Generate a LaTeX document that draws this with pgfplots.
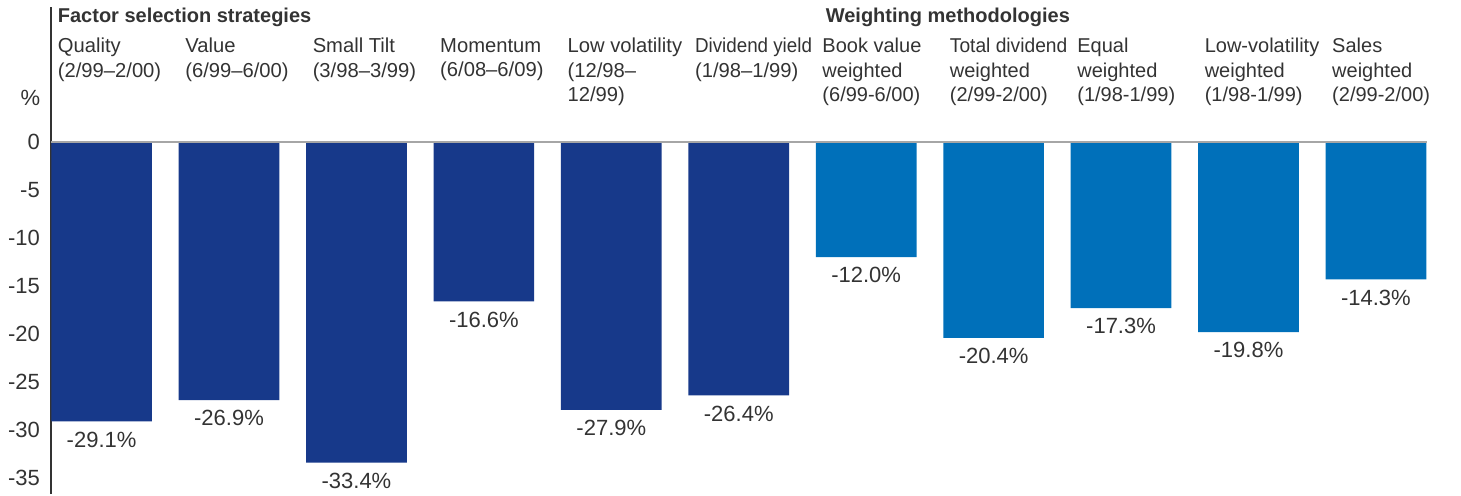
\documentclass[border=0pt]{standalone}
\usepackage{fontspec}
\setmainfont{Liberation Sans}
\usepackage{graphicx}
\usepackage{pgfplots}
\pgfplotsset{compat=1.18}
\definecolor{navy}{HTML}{17398A}
\definecolor{midblue}{HTML}{0070BA}
\definecolor{txt}{HTML}{333333}
\begin{document}
\begin{tikzpicture}
\path[use as bounding box] (-25.5pt,-0.5pt) rectangle (705pt,247pt);
\begin{axis}[
 scale only axis, width=687.75pt, height=243.5pt,
 xmin=-0.397, xmax=10.397, ymin=-36.67, ymax=14.06,
 axis x line=none, axis y line*=left,
 y axis line style={draw=txt, line width=0.7pt, -},
 ytick={-35,-30,...,0},
 major tick length=0pt,
 yticklabel style={font=\fontsize{11}{13}\selectfont, text=txt, inner sep=0pt, xshift=-5.4pt},
 /pgf/number format/assume math mode=true,
 ybar, bar width=0.79, bar shift=0pt,
 clip=false,
 nodes near coords={\pgfmathprintnumber[fixed,fixed zerofill,precision=1]{\pgfplotspointmeta}\%},
 every node near coord/.append style={font=\fontsize{11}{13}\selectfont, text=txt, anchor=north, inner sep=0pt, yshift=-5pt},
]
\addplot[fill=navy, draw=none] coordinates {(0,-29.1) (1,-26.9) (2,-33.4) (3,-16.6) (4,-27.9) (5,-26.4)};
\addplot[fill=midblue, draw=none] coordinates {(6,-12.0) (7,-20.4) (8,-17.3) (9,-19.8) (10,-14.3)};
\draw[gray!70, line width=0.6pt] (axis cs:-0.397,0) -- (axis cs:10.397,0);
\tikzset{cat/.style={anchor=north west, align=left, inner sep=0pt, text=txt, font=\fontsize{10.1}{12.25}\selectfont},
         catw/.style={anchor=north west, align=left, inner sep=0pt, text=txt, font=\fontsize{10}{12.25}\selectfont}}
\node[anchor=west, inner sep=0pt, text=txt, font=\bfseries\fontsize{10}{12}\selectfont] at (axis cs:-0.346,13.0) {Factor selection strategies};
\node[anchor=west, inner sep=0pt, text=txt, font=\bfseries\fontsize{10}{12}\selectfont] at (axis cs:5.68,13.0) {Weighting methodologies};
\node[cat] at (axis cs:-0.346,10.85) {Quality\\(2/99–2/00)};
\node[cat] at (axis cs:0.654,10.85) {Value\\(6/99–6/00)};
\node[cat] at (axis cs:1.654,10.85) {Small Tilt\\(3/98–3/99)};
\node[cat] at (axis cs:2.654,10.85) {Momentum\\(6/08–6/09)};
\node[cat] at (axis cs:3.654,10.85) {Low volatility\\(12/98–\\12/99)};
\node[cat] at (axis cs:4.654,10.85) {\scalebox{0.93}[1]{Dividend yield}\\(1/98–1/99)};
\node[catw] at (axis cs:5.654,10.85) {Book value\\weighted\\(6/99-6/00)};
\node[catw] at (axis cs:6.654,10.85) {\scalebox{0.96}[1]{Total dividend}\\weighted\\(2/99-2/00)};
\node[catw] at (axis cs:7.654,10.85) {Equal\\weighted\\(1/98-1/99)};
\node[catw] at (axis cs:8.654,10.85) {Low-volatility\\weighted\\(1/98-1/99)};
\node[catw] at (axis cs:9.654,10.85) {Sales\\weighted\\(2/99-2/00)};
\node[text=txt, inner sep=0pt, font=\fontsize{11}{13}\selectfont] at (axis cs:-0.558,4.58) {\%};
\end{axis}
\end{tikzpicture}
\end{document}
